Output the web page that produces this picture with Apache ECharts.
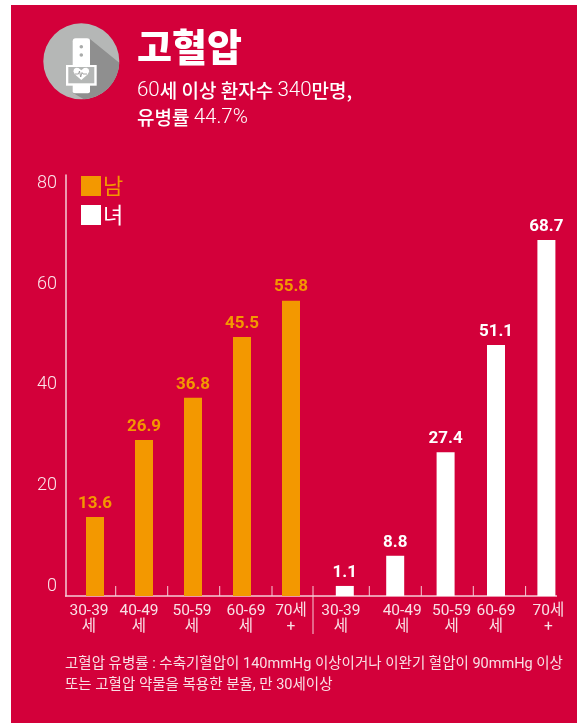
<!DOCTYPE html>
<html><head><meta charset="utf-8">
<style>html,body{margin:0;padding:0;background:#fff}#c{width:577px;height:723px}</style>
<script src="https://cdn.jsdelivr.net/npm/echarts@6/dist/echarts.min.js"></script>
</head><body><div id="c"></div>
<script>
// Age groups (tick labels, wrapped as in the picture)
const maleCategories = ['30-39\n세','40-49\n세','50-59\n세','60-69\n세','70세\n+'];
const femaleCategories = ['30-39\n세','40-49\n세','50-59\n세','60-69\n세','70세\n+'];
// Numbers printed above the bars
const malePrinted = ['13.6','26.9','36.8','45.5','55.8'];
const femalePrinted = ['1.1','8.8','27.4','51.1','68.7'];
// Bar heights as drawn (the picture's bars do not follow the printed numbers exactly)
const maleHeights = [15.7,31.0,39.4,51.5,58.7];
const femaleHeights = [2.0,8.0,28.6,49.9,70.8];
const yTicks = [0,20,40,60,80];
const footnote = '고혈압 유병률 : 수축기혈압이 140mmHg 이상이거나 이완기 혈압이 90mmHg 이상\n또는 고혈압 약물을 복용한 분율, 만 30세이상';

const RED='#d3003a', ORANGE='#f39800', LINE='#f6ccd7', FONT='Roboto,"Noto Sans CJK KR",sans-serif';
const BASE=596;
// Label nudges (px): negative = left, positive = right
const maleNudge=[-6,-5,-1,4,0], femaleNudge=[-4,7,6,0,2];
const catItems=(cats,n)=>cats.map((c,i)=>({value:c,textStyle:{padding:n[i]<0?[0,-2*n[i],0,0]:[0,0,0,2*n[i]]}}));
const xAxisBase={type:'category',axisLine:{show:false},axisTick:{show:false},
  axisLabel:{color:'#f9dfe5',fontFamily:FONT,fontSize:15.5,fontWeight:400,lineHeight:16,margin:7,interval:0,hideOverlap:false}};
const valLabel=(arr,color)=>({show:true,position:'top',distance:5,color,fontFamily:FONT,fontWeight:700,fontSize:17,formatter:p=>arr[p.dataIndex]});

// decorative ticks, baseline and divider
const ruleTicks=[115.7,167.7,219.7,272,369.3,421.3,473.3,525.6];
const line=(x1,y1,x2,y2,w)=>({type:'line',silent:true,z:1,shape:{x1,y1,x2,y2},style:{stroke:LINE,lineWidth:w||1}});
// icon
const cx=81.3,cy=61.3,r=38;
const shadowPts=[[90,39]];
for(let a=2;a<=86;a+=6){shadowPts.push([cx+r*Math.cos(a*Math.PI/180),cy+r*Math.sin(a*Math.PI/180)]);}
shadowPts.push([73,93],[90,65]);
const heart=[[81.3,80],[75,74.5],[73.4,71.5],[74,69],[76,67.8],[78.5,68],[81.3,70.2],[84,68],[86.6,67.8],[88.6,69],[89.2,71.5],[87.6,74.5]];
const icon=[
 {type:'circle',shape:{cx,cy,r},style:{fill:'#b5b7b6'},z:2},
 {type:'polygon',shape:{points:shadowPts},style:{fill:'#8f8f8f'},z:3},
 {type:'rect',shape:{x:72.7,y:38.3,width:17.3,height:30,r:[3,3,0,0]},style:{fill:'#fff'},z:4},
 {type:'rect',shape:{x:66,y:65,width:30.7,height:20.7},style:{fill:'#fff'},z:4},
 {type:'rect',shape:{x:72.7,y:84,width:17.3,height:9.3,r:[0,0,2,2]},style:{fill:'#fff'},z:4},
 {type:'rect',shape:{x:68.3,y:67,width:26,height:16.3},style:{fill:'#b5b7b6'},z:5},
 {type:'circle',shape:{cx:81.3,cy:46.7,r:1.8},style:{fill:'#a9abaa'},z:5},
 {type:'circle',shape:{cx:81.3,cy:55,r:1.8},style:{fill:'#a9abaa'},z:5},
 {type:'polygon',shape:{points:heart},style:{fill:'#fff'},z:6},
 {type:'polyline',shape:{points:[[75,74],[78.5,74],[79.5,71],[80.7,77],[82,72.5],[83,74],[87,74]]},style:{stroke:'#8f8f8f',fill:null,lineWidth:.8},z:7}
];

const option={
 animation:false,
 backgroundColor:'#fff',
 title:[
  {text:'고혈압',left:132,top:19,
   textStyle:{color:'#fff',fontFamily:'"Noto Sans CJK KR",sans-serif',fontWeight:900,fontSize:38,lineHeight:46},
   subtext:'{n|60}{k|세 이상 환자수 }{n|340}{k|만명,}\n{k|유병률 }{n|44.7%}',itemGap:7,
   subtextStyle:{color:'#fff',lineHeight:27,rich:{
    n:{color:'#fff',fontFamily:FONT,fontWeight:300,fontSize:20.5,lineHeight:27},
    k:{color:'#fff',fontFamily:'"Noto Sans CJK KR",sans-serif',fontWeight:500,fontSize:19,lineHeight:27}}}},
  {text:footnote,left:60,top:649,textStyle:{color:'#f9dfe5',fontFamily:FONT,fontWeight:400,fontSize:14.5,lineHeight:21}}
 ],
 legend:{orient:'vertical',left:81,top:175,itemWidth:20,itemHeight:20,itemGap:7,padding:0,selectedMode:false,
  icon:'rect',data:['남','녀'],textStyle:{color:'inherit',fontFamily:'"Noto Sans CJK KR",sans-serif',fontWeight:400,fontSize:22,padding:[0,0,0,-3]}},
 grid:[
  {left:70.5,width:245,top:175,bottom:723-BASE},
  {left:319.6,width:252,top:175,bottom:723-BASE}
 ],
 xAxis:[
  {...xAxisBase,gridIndex:0,data:catItems(maleCategories,maleNudge)},
  {...xAxisBase,gridIndex:1,data:catItems(femaleCategories,femaleNudge)}
 ],
 yAxis:[
  {type:'value',gridIndex:0,min:0,max:83.7,offset:4.5,splitLine:{show:false},axisTick:{show:false},
   axisLine:{show:true,lineStyle:{color:LINE,width:1.5}},
   axisLabel:{customValues:yTicks,color:'#fbe6eb',fontFamily:FONT,fontWeight:300,fontSize:18,margin:9,verticalAlign:'bottom',padding:[0,0,1,0]}},
  {type:'value',gridIndex:1,min:0,max:83.7,show:false}
 ],
 series:[
  {name:'남',type:'bar',xAxisIndex:0,yAxisIndex:0,barWidth:18,z:3,data:maleHeights,itemStyle:{color:ORANGE},label:valLabel(malePrinted,ORANGE)},
  {name:'녀',type:'bar',xAxisIndex:1,yAxisIndex:1,barWidth:18,z:3,data:femaleHeights,itemStyle:{color:'#fff'},label:valLabel(femalePrinted,'#fff')}
 ],
 graphic:{elements:[
  {type:'rect',silent:true,z:-10,zlevel:-1,shape:{x:11,y:5,width:566,height:718},style:{fill:RED}},
  line(65,BASE,557,BASE,1.5),
  ...ruleTicks.map(x=>line(x,586,x,BASE)),
  line(313,586,313,634),
  ...icon
 ]}
};
echarts.init(document.getElementById('c'),null,{renderer:'canvas'}).setOption(option);
</script></body></html>
